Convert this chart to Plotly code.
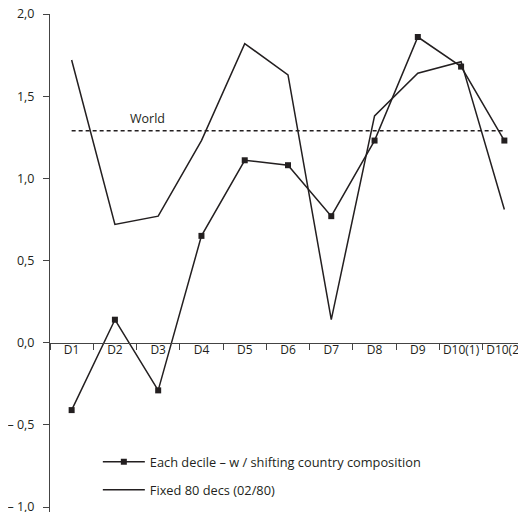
import plotly.graph_objects as go

categories = ["D1", "D2", "D3", "D4", "D5", "D6", "D7", "D8", "D9", "D10(1)", "D10(2)"]
each_decile = [-0.41, 0.14, -0.29, 0.65, 1.11, 1.08, 0.77, 1.23, 1.86, 1.68, 1.23]
fixed_80 = [1.72, 0.72, 0.77, 1.23, 1.82, 1.63, 0.14, 1.38, 1.64, 1.71, 0.81]
world_value = 1.29
y_tickvals = [-1.0, -0.5, 0.0, 0.5, 1.0, 1.5, 2.0]
y_ticktext = ["– 1,0", "– 0,5", "0,0", "0,5", "1,0", "1,5", "2,0"]

INK = "#231f20"
AXIS = "#444444"
FONT = "Open Sans"
Y_MIN, Y_MAX = -1.03, 2.0

fig = go.Figure()

fig.add_trace(go.Scatter(
    x=categories, y=[world_value] * len(categories), mode="lines",
    line=dict(color=INK, width=1.5, dash="4px,3px"), showlegend=False,
    hoverinfo="skip"))

fig.add_trace(go.Scatter(
    x=categories, y=fixed_80, mode="lines", name="Fixed 80 decs (02/80)",
    line=dict(color=INK, width=1.5), legend="legend2"))

fig.add_trace(go.Scatter(
    x=categories, y=each_decile, mode="lines+markers",
    name="Each decile – w / shifting country composition",
    line=dict(color=INK, width=1.5),
    marker=dict(symbol="square", size=6, color=INK), legend="legend"))

fig.add_annotation(x=1.76, y=world_value, xref="x", yref="y", text="World",
                   showarrow=False, yshift=12,
                   font=dict(family=FONT, size=12.5, color=INK))

fig.update_layout(
    width=518, height=504,
    margin=dict(l=42, r=0, t=6, b=0),
    paper_bgcolor="white", plot_bgcolor="white",
    font=dict(family=FONT, size=12, color=INK),
    xaxis=dict(
        type="category", range=[-0.5, 10.5], anchor="free",
        position=(0 - Y_MIN) / (Y_MAX - Y_MIN),
        showline=True, linecolor=AXIS, linewidth=1, automargin=False,
        tickangle=0, ticklabelstandoff=-4, ticklabeloverflow="allow",
        ticks="outside", tickson="boundaries", ticklen=6, tickcolor=AXIS,
        showgrid=False, zeroline=False,
        tickfont=dict(family=FONT, size=12, color=INK)),
    yaxis=dict(
        range=[Y_MIN, Y_MAX], tickvals=y_tickvals, ticktext=y_ticktext,
        showline=True, linecolor=AXIS, linewidth=1, automargin=False,
        ticks="outside", ticklen=6, tickcolor=AXIS, ticklabelstandoff=6,
        ticklabeloverflow="allow",
        showgrid=False, zeroline=False,
        tickfont=dict(family=FONT, size=12.5, color=INK)),
    legend=dict(x=0.1005, y=0.1004, xanchor="left", yanchor="middle",
                itemwidth=42, bgcolor="rgba(0,0,0,0)",
                font=dict(family=FONT, size=12.8, color=INK)),
    legend2=dict(x=0.1005, y=0.0442, xanchor="left", yanchor="middle",
                 itemwidth=42, bgcolor="rgba(0,0,0,0)",
                 font=dict(family=FONT, size=12.8, color=INK)),
)

fig.write_html("out.html")
